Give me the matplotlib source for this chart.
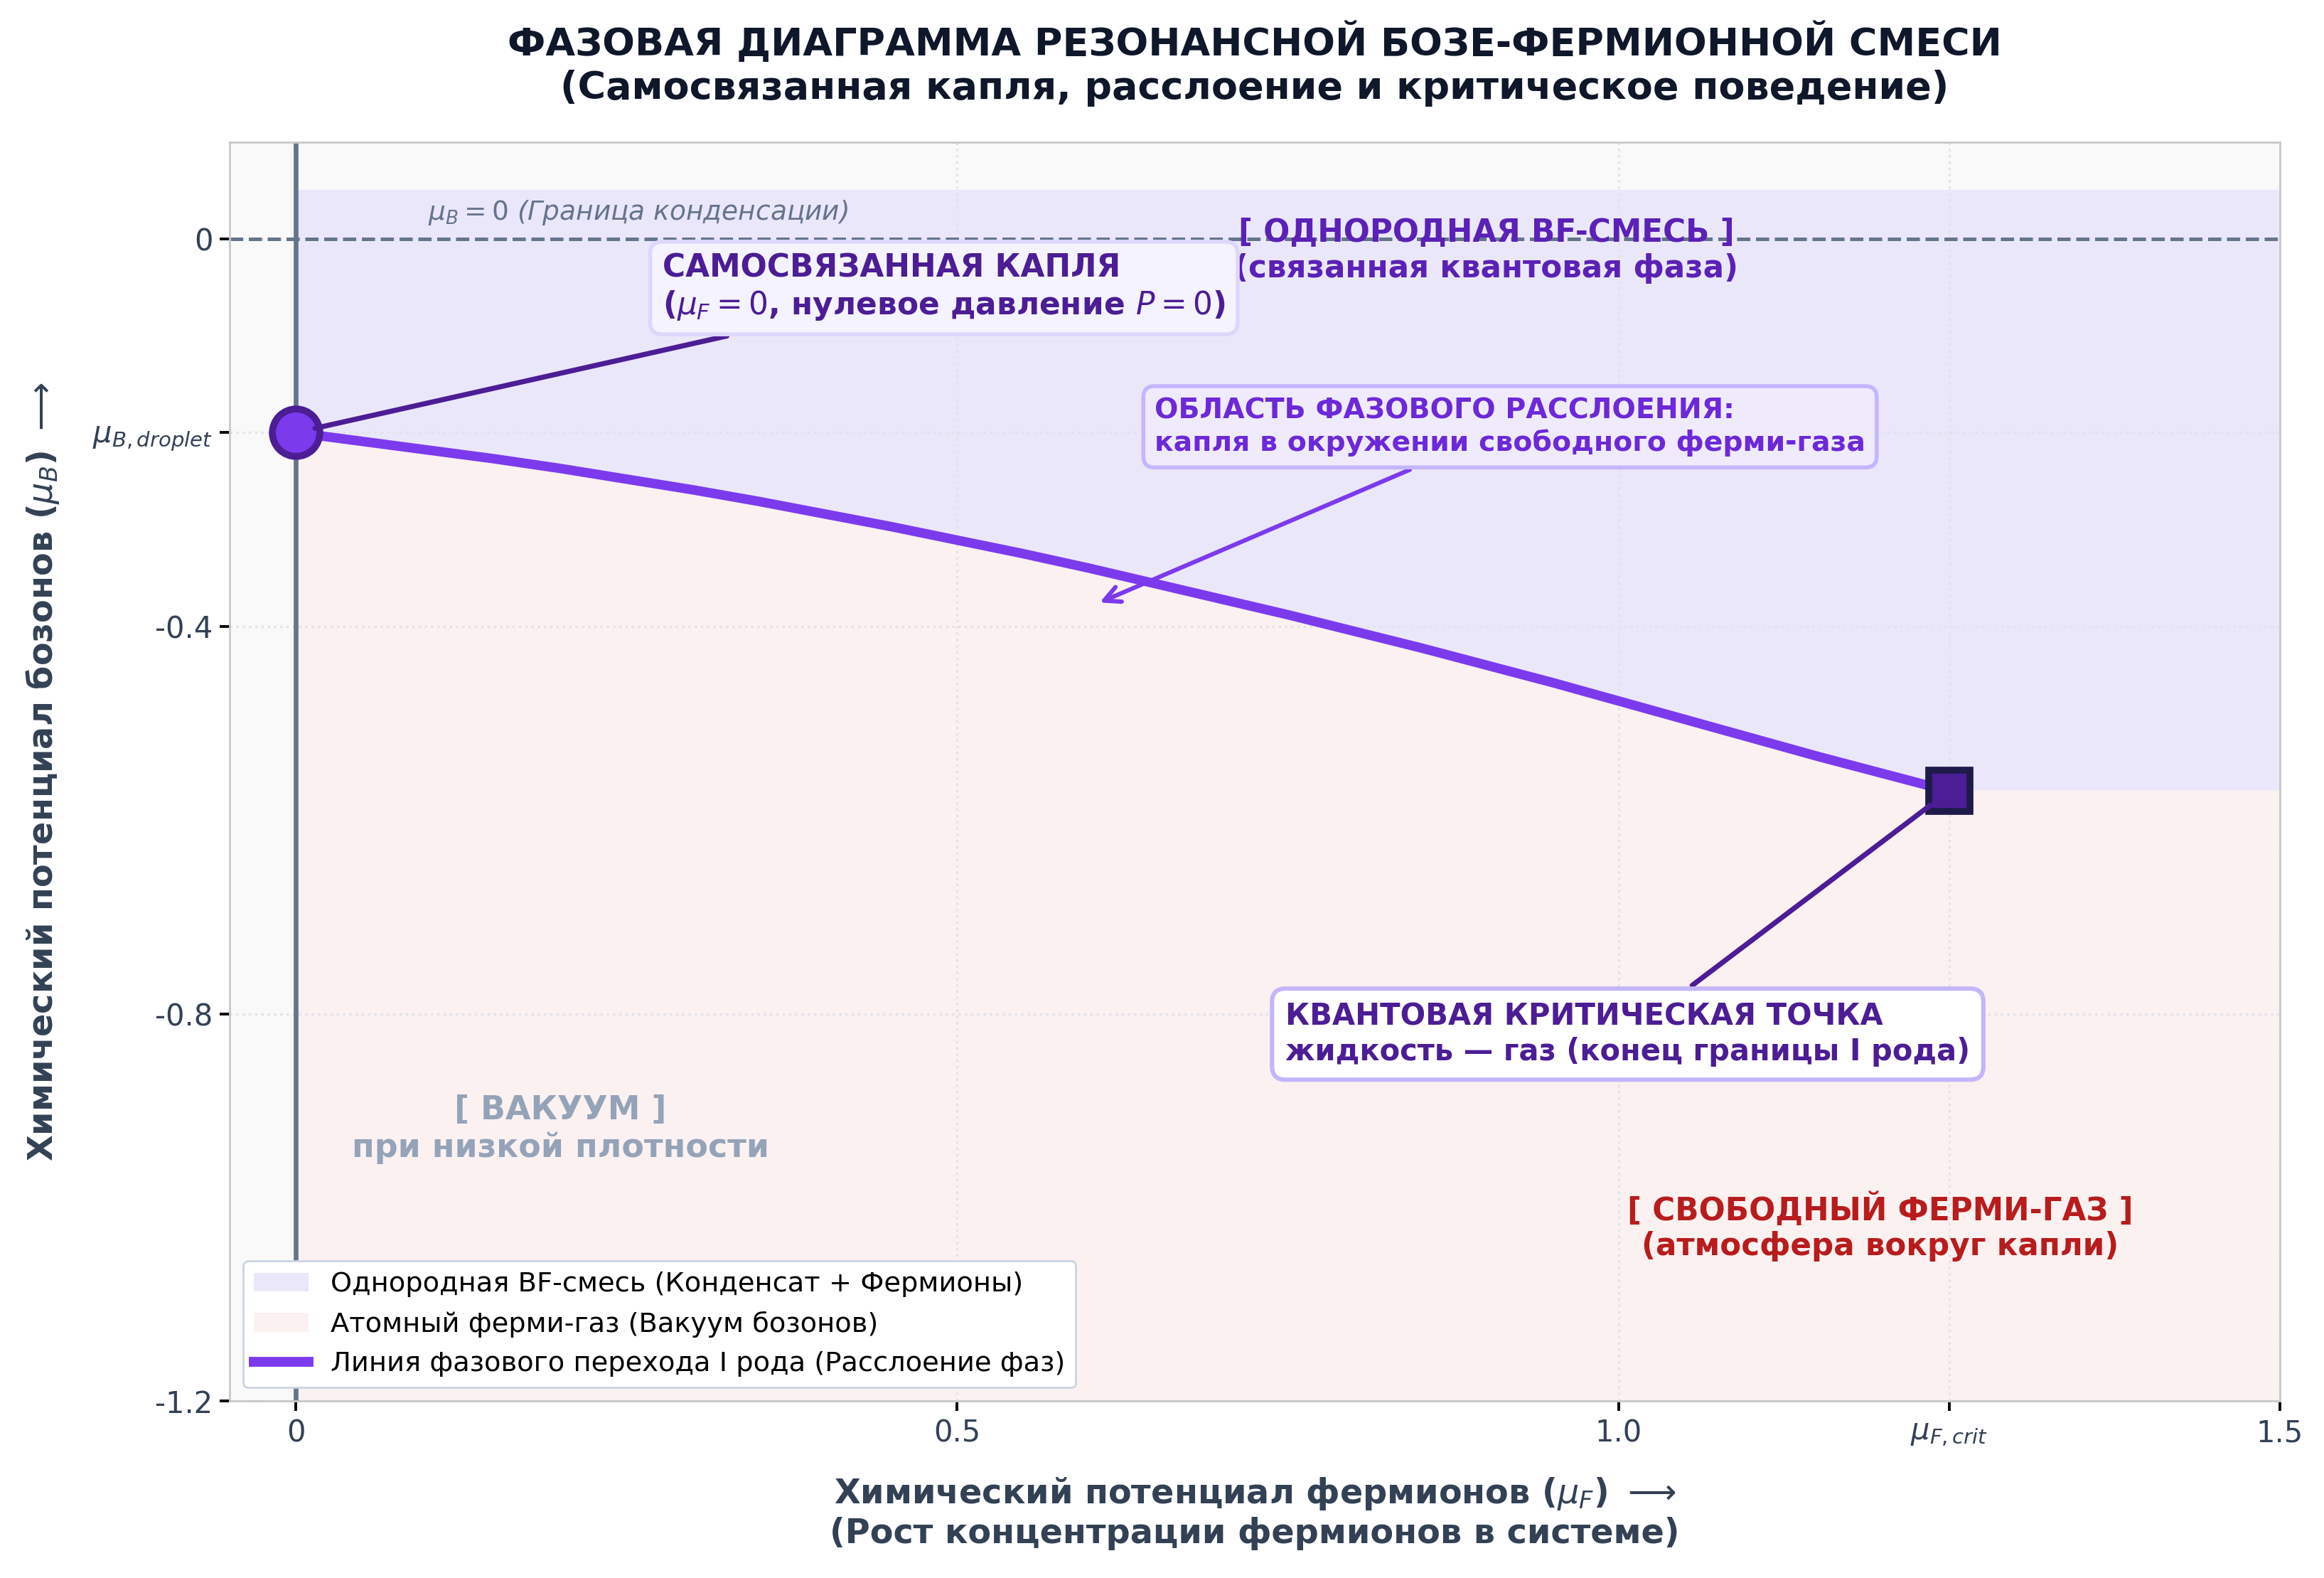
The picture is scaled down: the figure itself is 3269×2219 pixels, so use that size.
import matplotlib
matplotlib.use('Agg')
import matplotlib.pyplot as plt
from matplotlib.patches import Patch
from matplotlib.lines import Line2D

# first-order boundary mu_B(mu_F)
mu_f = [0.0, 0.05, 0.10, 0.15, 0.20, 0.25, 0.30, 0.35, 0.40, 0.45, 0.50, 0.55, 0.60,
        0.65, 0.70, 0.75, 0.80, 0.85, 0.90, 0.95, 1.00, 1.05, 1.10, 1.15, 1.20, 1.25]
mu_b = [-0.200, -0.209, -0.218, -0.227, -0.237, -0.248, -0.259, -0.271, -0.284,
        -0.297, -0.311, -0.325, -0.340, -0.356, -0.372, -0.388, -0.405, -0.422,
        -0.440, -0.458, -0.477, -0.496, -0.515, -0.534, -0.552, -0.570]

mu_b_droplet = -0.2
mu_f_crit = 1.25
mu_b_crit = -0.57
mixture_top = 0.05

x_ticks = [0, 0.5, 1.0, mu_f_crit, 1.5]
x_labels = ['0', '0.5', '1.0', r'$\mu_{F,crit}$', '1.5']
y_ticks = [-1.2, -0.8, -0.4, mu_b_droplet, 0]
y_labels = ['-1.2', '-0.8', '-0.4', r'$\mu_{B,droplet}$', '0']

legend_labels = ['Однородная BF-смесь (Конденсат + Фермионы)',
                 'Атомный ферми-газ (Вакуум бозонов)',
                 'Линия фазового перехода I рода (Расслоение фаз)']

fig, ax = plt.subplots(figsize=(16.345, 11.095), dpi=200)
fig.subplots_adjust(left=0.0988, right=0.981, top=0.91, bottom=0.112)
ax.set_facecolor('#f9f9f9')
ax.set_xlim(-0.05, 1.5)
ax.set_ylim(-1.2, 0.1)

# regions
fx = mu_f + [1.5]
fy = mu_b + [mu_b_crit]
ax.fill_between(fx, fy, mixture_top, color='#ebe7fb', zorder=0)
ax.fill_between(fx, -1.2, fy, color='#fbf1f1', zorder=0)

ax.grid(True, linestyle=':', color='#e2e2ea', linewidth=1.2, zorder=0.5)
ax.axvline(0, color='#64748b', lw=2.4, zorder=2)
ax.axhline(0, color='#64748b', lw=1.8, ls='--', zorder=2)
ax.text(0.1, 0.02, r'$\mu_B = 0$ (Граница конденсации)', color='#64748b',
        fontsize=13.5, style='italic', zorder=3)

ax.plot(mu_f, mu_b, color='#7c3aed', lw=4.8, zorder=4, solid_capstyle='round')
ax.plot([0], [mu_b_droplet], 'o', ms=24, mfc='#7c3aed', mec='#4c1d95', mew=3.5, zorder=6)
ax.plot([mu_f_crit], [mu_b_crit], 's', ms=21, mfc='#4c1d95', mec='#1e1b4b', mew=3.5, zorder=6)

ax.annotate('САМОСВЯЗАННАЯ КАПЛЯ\n($\\mu_F = 0$, нулевое давление $P = 0$)',
            xy=(0, mu_b_droplet), xytext=(0.49, -0.05), ha='center', va='center',
            multialignment='left', fontsize=15.8, fontweight='bold', color='#4c1d95',
            bbox=dict(boxstyle='round,pad=0.4', fc='#f5f3ff', ec='#ddd6fe', lw=2),
            arrowprops=dict(arrowstyle='-', color='#4c1d95', lw=2.6, shrinkB=10), zorder=7)

ax.text(0.9, -0.012, '[ ОДНОРОДНАЯ BF-СМЕСЬ ]\n(связанная квантовая фаза)', ha='center',
        va='center', fontsize=15.7, fontweight='bold', color='#5b21b6', zorder=5)

ax.annotate('ОБЛАСТЬ ФАЗОВОГО РАССЛОЕНИЯ:\nкапля в окружении свободного ферми-газа',
            xy=(0.605, -0.377), xytext=(0.918, -0.194), ha='center', va='center',
            multialignment='left', fontsize=14.2, fontweight='bold', color='#6d28d9',
            bbox=dict(boxstyle='round,pad=0.4', fc='#efebfd', ec='#c4b5fd', lw=2),
            arrowprops=dict(arrowstyle='->', color='#7c3aed', lw=2.2, mutation_scale=20),
            zorder=7)

ax.annotate('КВАНТОВАЯ КРИТИЧЕСКАЯ ТОЧКА\nжидкость — газ (конец границы I рода)',
            xy=(mu_f_crit, mu_b_crit), xytext=(1.007, -0.821), ha='center', va='center',
            multialignment='left', fontsize=15, fontweight='bold', color='#4c1d95',
            bbox=dict(boxstyle='round,pad=0.45', fc='white', ec='#c4b5fd', lw=2.2),
            arrowprops=dict(arrowstyle='-', color='#4c1d95', lw=2.6, shrinkB=12), zorder=7)

ax.text(0.2, -0.919, '[ ВАКУУМ ]\nпри низкой плотности', ha='center', va='center',
        fontsize=16.5, fontweight='bold', color='#94a3b8', zorder=5)
ax.text(1.198, -1.02, '[ СВОБОДНЫЙ ФЕРМИ-ГАЗ ]\n(атмосфера вокруг капли)', ha='center',
        va='center', fontsize=15.7, fontweight='bold', color='#b91c1c', zorder=5)

ax.set_xticks(x_ticks)
ax.set_xticklabels(x_labels)
ax.set_yticks(y_ticks)
ax.set_yticklabels(y_labels)
ax.tick_params(labelsize=15, labelcolor='#334155', color='black', length=5, width=1.4)
for s in ax.spines.values():
    s.set_color('#c8c8c8')
    s.set_linewidth(1.0)

ax.set_xlabel('Химический потенциал фермионов ($\\mu_F$) $\\longrightarrow$\n'
              '(Рост концентрации фермионов в системе)', fontsize=17.2,
              fontweight='bold', color='#334155', labelpad=14)
ax.set_ylabel('Химический потенциал бозонов ($\\mu_B$) $\\longrightarrow$', fontsize=17.2,
              fontweight='bold', color='#334155', labelpad=16)
ax.set_title('ФАЗОВАЯ ДИАГРАММА РЕЗОНАНСНОЙ БОЗЕ-ФЕРМИОННОЙ СМЕСИ\n'
             '(Самосвязанная капля, расслоение и критическое поведение)',
             fontsize=19.4, fontweight='bold', color='#0f172a', pad=22)

handles = [Patch(fc='#ebe7fb', ec='none'), Patch(fc='#fbf1f1', ec='none'),
           Line2D([], [], color='#7c3aed', lw=5)]
leg = ax.legend(handles, legend_labels, loc='lower left', fontsize=13.8, frameon=True,
                facecolor='white', edgecolor='#cbd5e1', framealpha=1)
leg.set_zorder(8)

fig.savefig('out.png', dpi=200)
